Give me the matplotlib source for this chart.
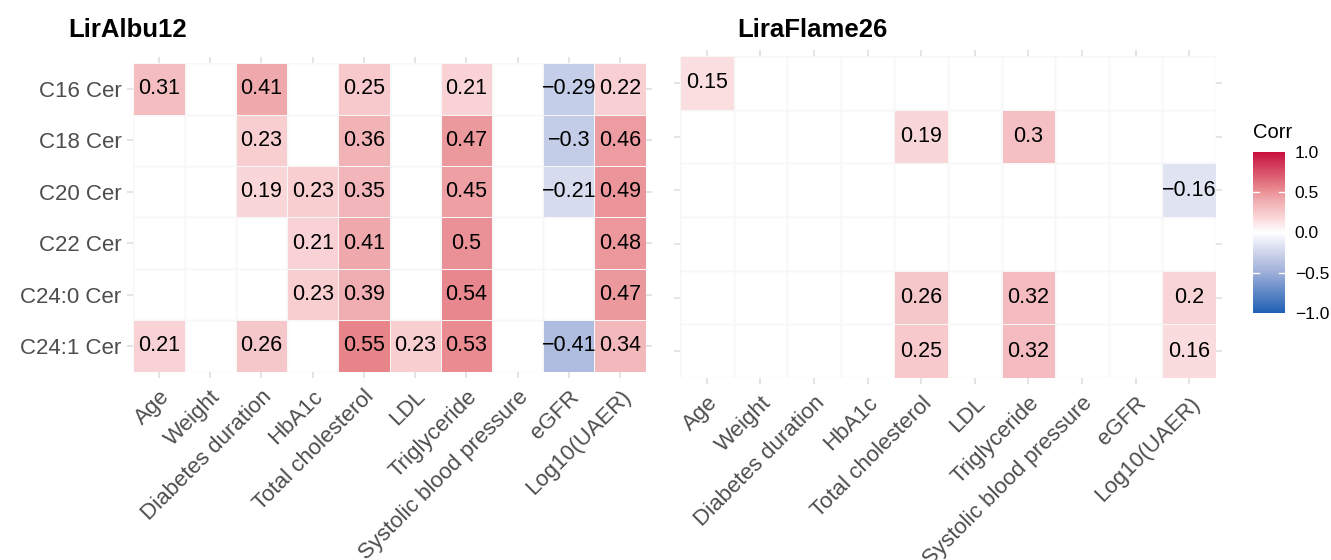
import numpy as np
import matplotlib
matplotlib.use('Agg')
import matplotlib.pyplot as plt
from matplotlib.colors import LinearSegmentedColormap, Normalize
from matplotlib.cm import ScalarMappable

plt.rcParams['font.family'] = ['Liberation Sans', 'DejaVu Sans']

nan = np.nan

# Data
rows = ['C16 Cer', 'C18 Cer', 'C20 Cer', 'C22 Cer', 'C24:0 Cer', 'C24:1 Cer']
cols = ['Age', 'Weight', 'Diabetes duration', 'HbA1c', 'Total cholesterol',
        'LDL', 'Triglyceride', 'Systolic blood pressure', 'eGFR', 'Log10(UAER)']

liralbu12 = [
    [0.31, nan, 0.41, nan, 0.25, nan, 0.21, nan, -0.29, 0.22],
    [nan, nan, 0.23, nan, 0.36, nan, 0.47, nan, -0.3, 0.46],
    [nan, nan, 0.19, 0.23, 0.35, nan, 0.45, nan, -0.21, 0.49],
    [nan, nan, nan, 0.21, 0.41, nan, 0.5, nan, nan, 0.48],
    [nan, nan, nan, 0.23, 0.39, nan, 0.54, nan, nan, 0.47],
    [0.21, nan, 0.26, nan, 0.55, 0.23, 0.53, nan, -0.41, 0.34],
]

liraflame26 = [
    [0.15, nan, nan, nan, nan, nan, nan, nan, nan, nan],
    [nan, nan, nan, nan, 0.19, nan, 0.3, nan, nan, nan],
    [nan, nan, nan, nan, nan, nan, nan, nan, nan, -0.16],
    [nan, nan, nan, nan, nan, nan, nan, nan, nan, nan],
    [nan, nan, nan, nan, 0.26, nan, 0.32, nan, nan, 0.2],
    [nan, nan, nan, nan, 0.25, nan, 0.32, nan, nan, 0.16],
]

cbar_ticks = [-1.0, -0.5, 0.0, 0.5, 1.0]

# Colour scale (-1 .. 1)
cmap = LinearSegmentedColormap.from_list('corr', [
    (0.00, '#1F60B4'),
    (0.25, '#9DAED9'),
    (0.40, '#D8DDEF'),
    (0.50, '#FFFFFF'),
    (0.60, '#F9D4D6'),
    (0.70, '#F0ACB0'),
    (0.775, '#E8868C'),
    (1.00, '#C8103F'),
])
norm = Normalize(-1, 1)

GRID = '#EFEFEF'
TICK = '#E2E2E2'
LABEL = '#4D4D4D'

fig = plt.figure(figsize=(13.31, 5.6), dpi=100)


def fmt(v):
    return f'{v:g}'.replace('-', '\u2212')


def draw_panel(ax, data, title, title_x, show_y):
    m = np.ma.masked_invalid(np.array(data, dtype=float))
    nr, nc = m.shape
    for x in np.arange(nc + 1) - 0.5:
        ax.axvline(x, color=GRID, lw=1.0, zorder=0)
    for y in np.arange(nr + 1) - 0.5:
        ax.axhline(y, color=GRID, lw=1.0, zorder=0)
    ax.pcolormesh(np.arange(nc + 1) - 0.5, np.arange(nr + 1) - 0.5, m,
                  cmap=cmap, norm=norm, edgecolors='#F7F7F7',
                  linewidth=0.6, zorder=1)
    for i in range(nr):
        for j in range(nc):
            if not np.ma.is_masked(m[i, j]):
                ax.text(j, i, fmt(m[i, j]), ha='center', va='center',
                        fontsize=15.5, color='black', zorder=3)
    ax.set_xlim(-0.5, nc - 0.5)
    ax.set_ylim(nr - 0.5, -0.5)
    for s in ax.spines.values():
        s.set_visible(False)
    ax.set_xticks(range(nc))
    ax.set_xticklabels(cols, rotation=45, ha='right', va='top',
                       rotation_mode='anchor', fontsize=16, color=LABEL)
    ax.set_yticks(range(nr))
    if show_y:
        ax.set_yticklabels(rows, fontsize=16, color=LABEL)
    else:
        ax.set_yticklabels([])
    ax.tick_params(axis='both', which='both', length=4.5, width=1.3,
                   color=TICK, top=True, right=True, pad=4)
    ax.tick_params(axis='x', pad=6)
    fig.text(title_x, 0.946, title, fontsize=18.5, fontweight='bold',
             ha='left', va='center')


ax1 = fig.add_axes([0.1002, 0.3363, 0.3849, 0.5507])
draw_panel(ax1, liralbu12, 'LirAlbu12', 0.0511, True)

ax2 = fig.add_axes([0.5109, 0.325, 0.4027, 0.575])
draw_panel(ax2, liraflame26, 'LiraFlame26', 0.5537, False)

# Colour bar
cax = fig.add_axes([0.9414, 0.4411, 0.0240, 0.2875])
sm = ScalarMappable(norm=norm, cmap=cmap)
cb = fig.colorbar(sm, cax=cax, ticks=cbar_ticks)
cb.outline.set_visible(False)
cb.ax.set_yticklabels([f'{t:.1f}'.replace('-', '\u2212') for t in cbar_ticks],
                      fontsize=12.5, color='black')
cb.ax.tick_params(length=0, pad=7)
ytr = cb.ax.get_yaxis_transform()
for t in cbar_ticks[1:-1]:
    cb.ax.plot([0, 0.2], [t, t], color='white', lw=1.0, transform=ytr)
    cb.ax.plot([0.8, 1.0], [t, t], color='white', lw=1.0, transform=ytr)
fig.text(0.9414, 0.7625, 'Corr', fontsize=14.5, ha='left', va='center')

fig.savefig('out.png', dpi=100)
